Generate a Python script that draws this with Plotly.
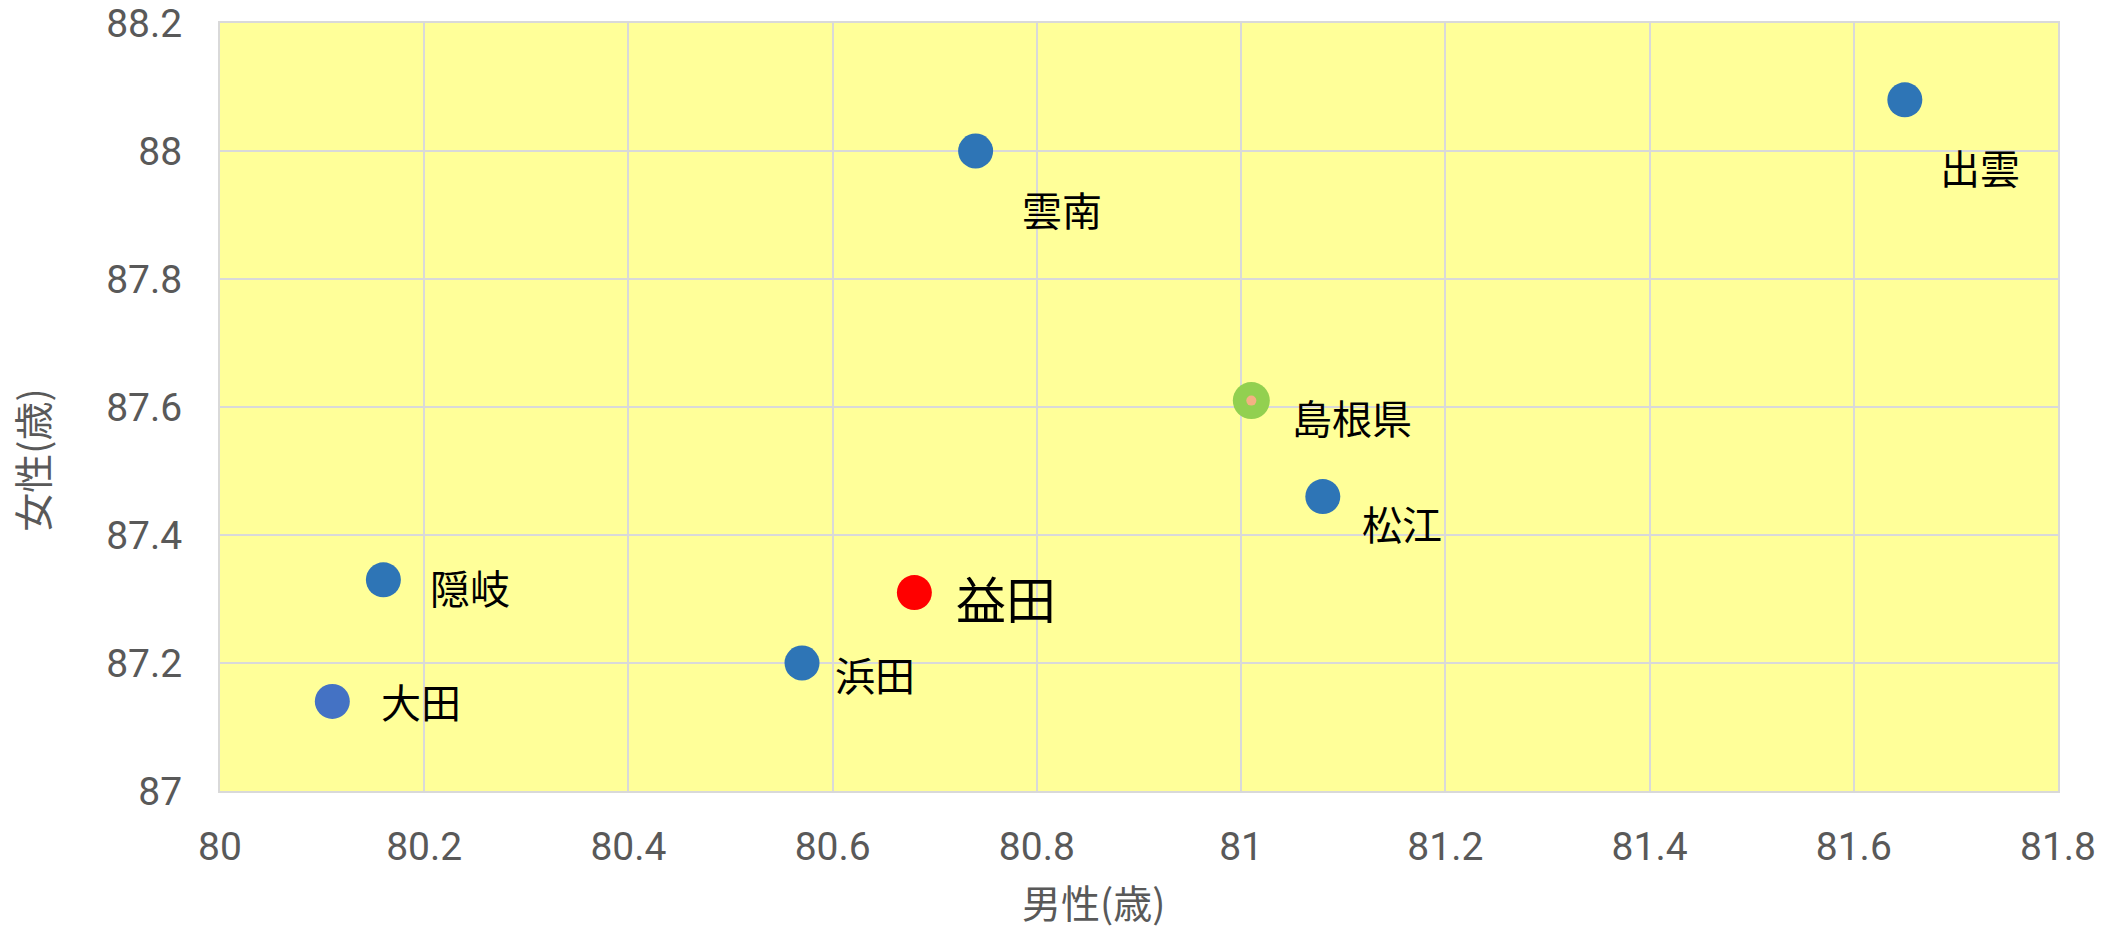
import plotly.graph_objects as go

# Data
names = ["隠岐", "大田", "浜田", "益田", "雲南", "出雲", "島根県", "松江"]
male = [80.16, 80.11, 80.57, 80.68, 80.74, 81.65, 81.01, 81.08]
female = [87.33, 87.14, 87.20, 87.31, 88.00, 88.08, 87.61, 87.46]
x_ticks = [80, 80.2, 80.4, 80.6, 80.8, 81, 81.2, 81.4, 81.6, 81.8]
y_ticks = [87, 87.2, 87.4, 87.6, 87.8, 88, 88.2]
x_title = "男性(歳)"
y_title = "女性(歳)"

# Styles (kept separate from data)
colors = {"隠岐": "#2E75B6", "大田": "#4472C4", "浜田": "#2E75B6", "益田": "#FF0000",
          "雲南": "#2E75B6", "出雲": "#2E75B6", "島根県": "#92D050", "松江": "#2E75B6"}
label_offsets = {"隠岐": (45, -7), "大田": (47, 0), "浜田": (31, -11), "益田": (40, -4),
                 "雲南": (44, -58), "出雲": (33, -67), "島根県": (39, -16), "松江": (37, -26)}
label_sizes = {"益田": 50}
marker_sizes = {"島根県": 37}

fig = go.Figure()
for n, xv, yv in zip(names, male, female):
    fig.add_trace(go.Scatter(x=[xv], y=[yv], mode="markers",
                             marker=dict(size=marker_sizes.get(n, 35), color=colors[n], line=dict(width=0)),
                             showlegend=False, hoverinfo="skip"))
    if n == "島根県":
        fig.add_trace(go.Scatter(x=[xv], y=[yv], mode="markers",
                                 marker=dict(size=10, color="#F4B183", line=dict(width=0)),
                                 showlegend=False, hoverinfo="skip"))
    dx, dy = label_offsets[n]
    fig.add_annotation(x=xv, y=yv, text=n, showarrow=False, xanchor="left", yanchor="middle",
                       xshift=dx, yshift=dy,
                       font=dict(family="Noto Sans CJK JP", size=label_sizes.get(n, 40), color="#000000"))

fig.add_annotation(xref="paper", yref="paper", x=0.4755, y=-138 / 768, yshift=-2, text=x_title,
                   showarrow=False, xanchor="center", yanchor="bottom",
                   font=dict(family="Noto Sans CJK JP", size=39, color="#595959"))
fig.add_annotation(xref="paper", yref="paper", x=-0.103, y=0.431, text=y_title, showarrow=False,
                   textangle=-90, xanchor="center", yanchor="middle",
                   font=dict(family="Noto Sans CJK JP", size=39, color="#595959"))

axis_common = dict(showgrid=True, gridcolor="#D9D9D9", gridwidth=1.5, zeroline=False,
                   showline=True, linecolor="#D9D9D9", linewidth=2, mirror=True,
                   ticks="outside", tickcolor="rgba(0,0,0,0)", automargin=False,
                   tickfont=dict(family="Roboto", size=39, color="#595959"))
fig.update_xaxes(range=[80, 81.8], tickvals=x_ticks, ticktext=[f"{v:g}" for v in x_ticks],
                 ticklen=20, **axis_common)
fig.update_yaxes(range=[87, 88.2], tickvals=y_ticks, ticktext=[f"{v:g}" for v in y_ticks],
                 ticklen=28, **axis_common)

fig.update_layout(width=2113, height=929, margin=dict(l=220, r=55, t=23, b=138),
                  plot_bgcolor="#FFFF99", paper_bgcolor="#FFFFFF")
fig.write_html("out.html", config={"displayModeBar": False},
               post_script="document.body.style.margin='0';document.body.style.overflow='hidden';")
